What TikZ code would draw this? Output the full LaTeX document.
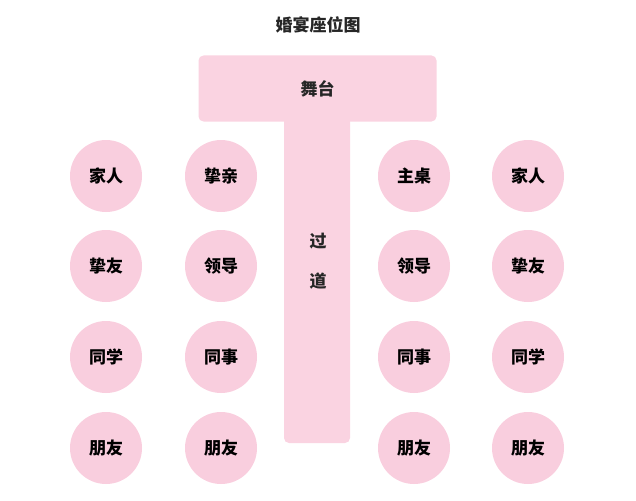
\documentclass[tikz,border=0pt]{standalone}
\usepackage{fontspec}
\newfontfamily\cjk{Noto Sans CJK SC}
\usepackage{xcolor}
\definecolor{seatpink}{RGB}{249,206,222}
\definecolor{stagepink}{RGB}{250,211,225}

\begin{document}
\begin{tikzpicture}[
    x=1pt, y=-1pt,
    seat/.style={circle, fill=seatpink, minimum size=72pt, inner sep=0pt, font=\cjk\bfseries\fontsize{17}{19}\selectfont},
    block/.style={rectangle, fill=stagepink, rounded corners=5pt, inner sep=0pt},
    label/.style={font=\cjk\bfseries\fontsize{17}{19}\selectfont, text=black!85}
]
    \useasboundingbox (0,0) rectangle (636,500);

    \node[label] (title) at (318,25) {婚宴座位图};

    \node[block, minimum width=66pt, minimum height=333pt] (aisle) at (317,276.5) {};
    \node[block, minimum width=238pt, minimum height=66pt] (stage) at (317.5,88.5) {};
    \node[label] (stagetext) at (317.5,89) {舞台};
    \node[label, align=center] (aisletext) at (318,261) {过\\[21pt]道};

    \node[seat] (family1) at (106,176) {家人};
    \node[seat] (relative) at (221,176) {挚亲};
    \node[seat] (maintable) at (414,176) {主桌};
    \node[seat] (family2) at (528,176) {家人};

    \node[seat] (friend1) at (106,266) {挚友};
    \node[seat] (boss1) at (221,266) {领导};
    \node[seat] (boss2) at (414,266) {领导};
    \node[seat] (friend2) at (528,266) {挚友};

    \node[seat] (classmate1) at (106,357) {同学};
    \node[seat] (colleague1) at (221,357) {同事};
    \node[seat] (colleague2) at (414,357) {同事};
    \node[seat] (classmate2) at (528,357) {同学};

    \node[seat] (pal1) at (106,448) {朋友};
    \node[seat] (pal2) at (221,448) {朋友};
    \node[seat] (pal3) at (414,448) {朋友};
    \node[seat] (pal4) at (528,448) {朋友};
\end{tikzpicture}
\end{document}
